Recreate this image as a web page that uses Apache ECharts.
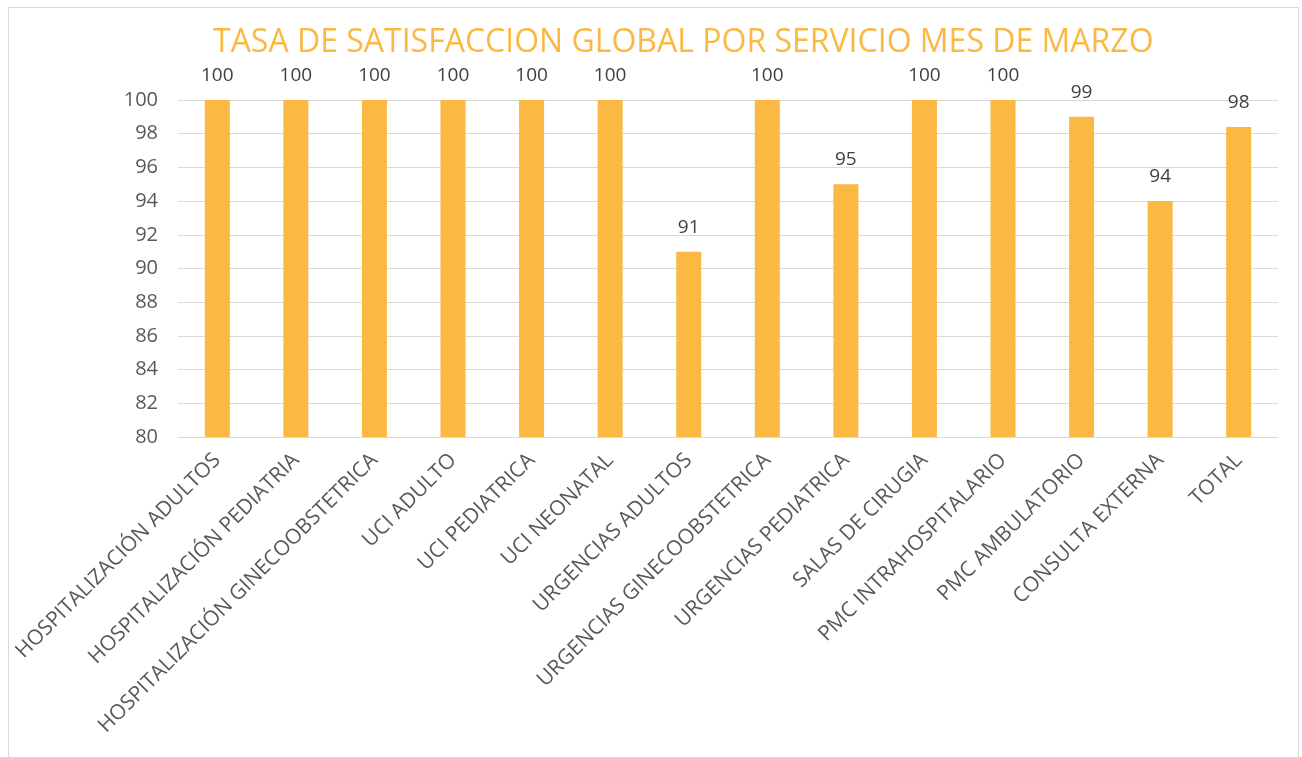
<!DOCTYPE html>
<html>
<head>
<meta charset="utf-8">
<script src="https://cdn.jsdelivr.net/npm/echarts@6/dist/echarts.min.js"></script>
<style>
  html, body { margin: 0; padding: 0; background: #fff; }
  #frame { position: absolute; left: 8px; top: 7px; width: 1291px; height: 760px; border: 1px solid #d9d9d9; box-sizing: border-box; }
  #chart { width: 1302px; height: 757px; position: absolute; left: 0; top: 0; }
</style>
</head>
<body>
<div id="frame"></div>
<div id="chart"></div>
<script>
// servicios
const categories = [
  'HOSPITALIZACIÓN ADULTOS',
  'HOSPITALIZACIÓN PEDIATRIA',
  'HOSPITALIZACIÓN GINECOOBSTETRICA',
  'UCI ADULTO',
  'UCI PEDIATRICA',
  'UCI NEONATAL',
  'URGENCIAS ADULTOS',
  'URGENCIAS GINECOOBSTETRICA',
  'URGENCIAS PEDIATRICA',
  'SALAS DE CIRUGIA',
  'PMC INTRAHOSPITALARIO',
  'PMC AMBULATORIO',
  'CONSULTA EXTERNA',
  'TOTAL'
]
const satisfaccion = [100, 100, 100, 100, 100, 100, 91, 100, 95, 100, 100, 99, 94, 98.4]
const yMin = 80
const yMax = 100
const yStep = 2

const chart = echarts.init(document.getElementById('chart'))
chart.setOption({
  animation: false,
  title: {
    text: 'TASA DE SATISFACCION GLOBAL POR SERVICIO MES DE MARZO',
    left: 208,
    top: 22,
    textStyle: {
      color: '#fbb843',
      fontFamily: 'Open Sans',
      fontWeight: 'normal',
      fontSize: 32
    }
  },
  grid: {
    left: 178,
    right: 24,
    top: 100,
    bottom: 320
  },
  xAxis: {
    type: 'category',
    data: categories,
    axisTick: { show: false },
    axisLine: { lineStyle: { color: '#d9d9d9', width: 1 } },
    axisLabel: {
      rotate: 45,
      interval: 0,
      margin: 20,
      color: '#595959',
      fontSize: 21,
      fontFamily: 'Open Sans'
    }
  },
  yAxis: {
    type: 'value',
    min: yMin,
    max: yMax,
    interval: yStep,
    axisLine: { show: false },
    axisTick: { show: false },
    splitLine: { lineStyle: { color: '#d9d9d9', width: 1 } },
    axisLabel: {
      margin: 20,
      color: '#595959',
      fontSize: 20,
      fontFamily: 'Open Sans'
    }
  },
  series: [
    {
      type: 'bar',
      data: satisfaccion,
      barWidth: 25,
      itemStyle: { color: '#fbb843' },
      label: {
        show: true,
        position: 'top',
        distance: 15,
        color: '#404040',
        fontSize: 19,
        fontFamily: 'Open Sans',
        formatter: p => Math.round(p.value)
      }
    }
  ]
})
</script>
</body>
</html>
